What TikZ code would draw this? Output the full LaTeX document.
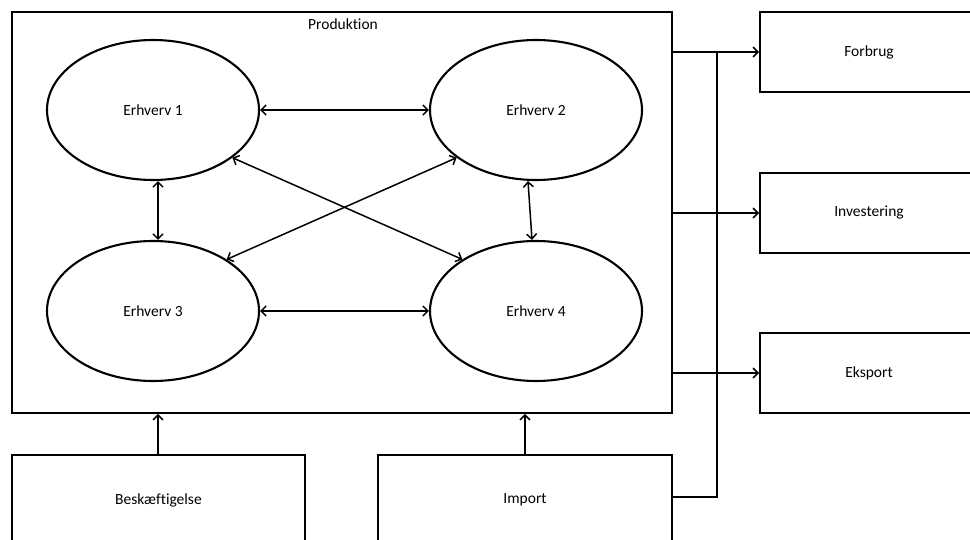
\documentclass[tikz,border=0pt]{standalone}
\usepackage{fontspec}
\setmainfont{Carlito}[Ligatures=CommonOff]
\usetikzlibrary{arrows.meta,shapes.geometric}
\begin{document}
\begin{tikzpicture}[x=1pt,y=-1pt,
  lbl/.style={font=\fontsize{15.5}{18}\selectfont},
  box/.style={draw,line width=1.8pt,rectangle,inner sep=0pt,lbl},
  erh/.style={draw,line width=2.1pt,ellipse,inner sep=0pt,minimum width=212pt,minimum height=140pt,lbl},
  conn/.style={line width=1.5pt,-{Straight Barb[length=5pt,width=10pt]}},
  biconn/.style={line width=1.5pt,{Straight Barb[length=5pt,width=10pt]}-{Straight Barb[length=5pt,width=10pt]}}]
\useasboundingbox (0,0) rectangle (970,540);
\clip (0,0) rectangle (970,540);
\node[box,minimum width=660pt,minimum height=401pt] (prod) at (342,212.5) {};
\node[lbl] (prodlbl) at (343,24) {Produktion};
\node[erh] (e1) at (153,110) {Erhverv 1};
\node[erh] (e2) at (536,110) {Erhverv 2};
\node[erh] (e3) at (153,311) {Erhverv 3};
\node[erh] (e4) at (536,311) {Erhverv 4};
\node[box,minimum width=218pt,minimum height=80pt] (forbrug) at (869,52) {Forbrug};
\node[box,minimum width=218pt,minimum height=80pt] (invest) at (869,213) {Investering};
\node[box,minimum width=218pt,minimum height=80pt] (eksport) at (869,373) {Eksport};
\node[box,minimum width=293pt,minimum height=90pt] (besk) at (158.5,500) {Beskæftigelse};
\node[box,minimum width=294pt,minimum height=90pt] (import) at (525,500) {Import};
\coordinate (junc) at (717,52);
\coordinate (jbot) at (717,497);
% ellipse connectors
\draw[biconn] (e1.east) -- (e2.west);
\draw[biconn] (e3.east) -- (e4.west);
\draw[biconn] ([xshift=5pt]e1.south) -- ([xshift=5pt]e3.north);
\draw[biconn] ([xshift=-8pt]e2.south) -- ([xshift=-4pt]e4.north);
\draw[biconn] (e1.-31) -- (e4.145);
\draw[biconn] (e2.-149) -- (e3.35);
% outputs
\draw[conn] (prod.east |- forbrug.west) -- (forbrug.west);
\draw[conn] (prod.east |- invest.west) -- (invest.west);
\draw[conn] (prod.east |- eksport.west) -- (eksport.west);
\draw[line width=1.5pt] (import.east |- jbot) -- (jbot) -- (junc);
% inputs
\draw[conn] ([xshift=-0.5pt]besk.north) -- ([xshift=-0.5pt]besk.north |- prod.south);
\draw[conn] (import.north) -- (import.north |- prod.south);
\end{tikzpicture}
\end{document}
